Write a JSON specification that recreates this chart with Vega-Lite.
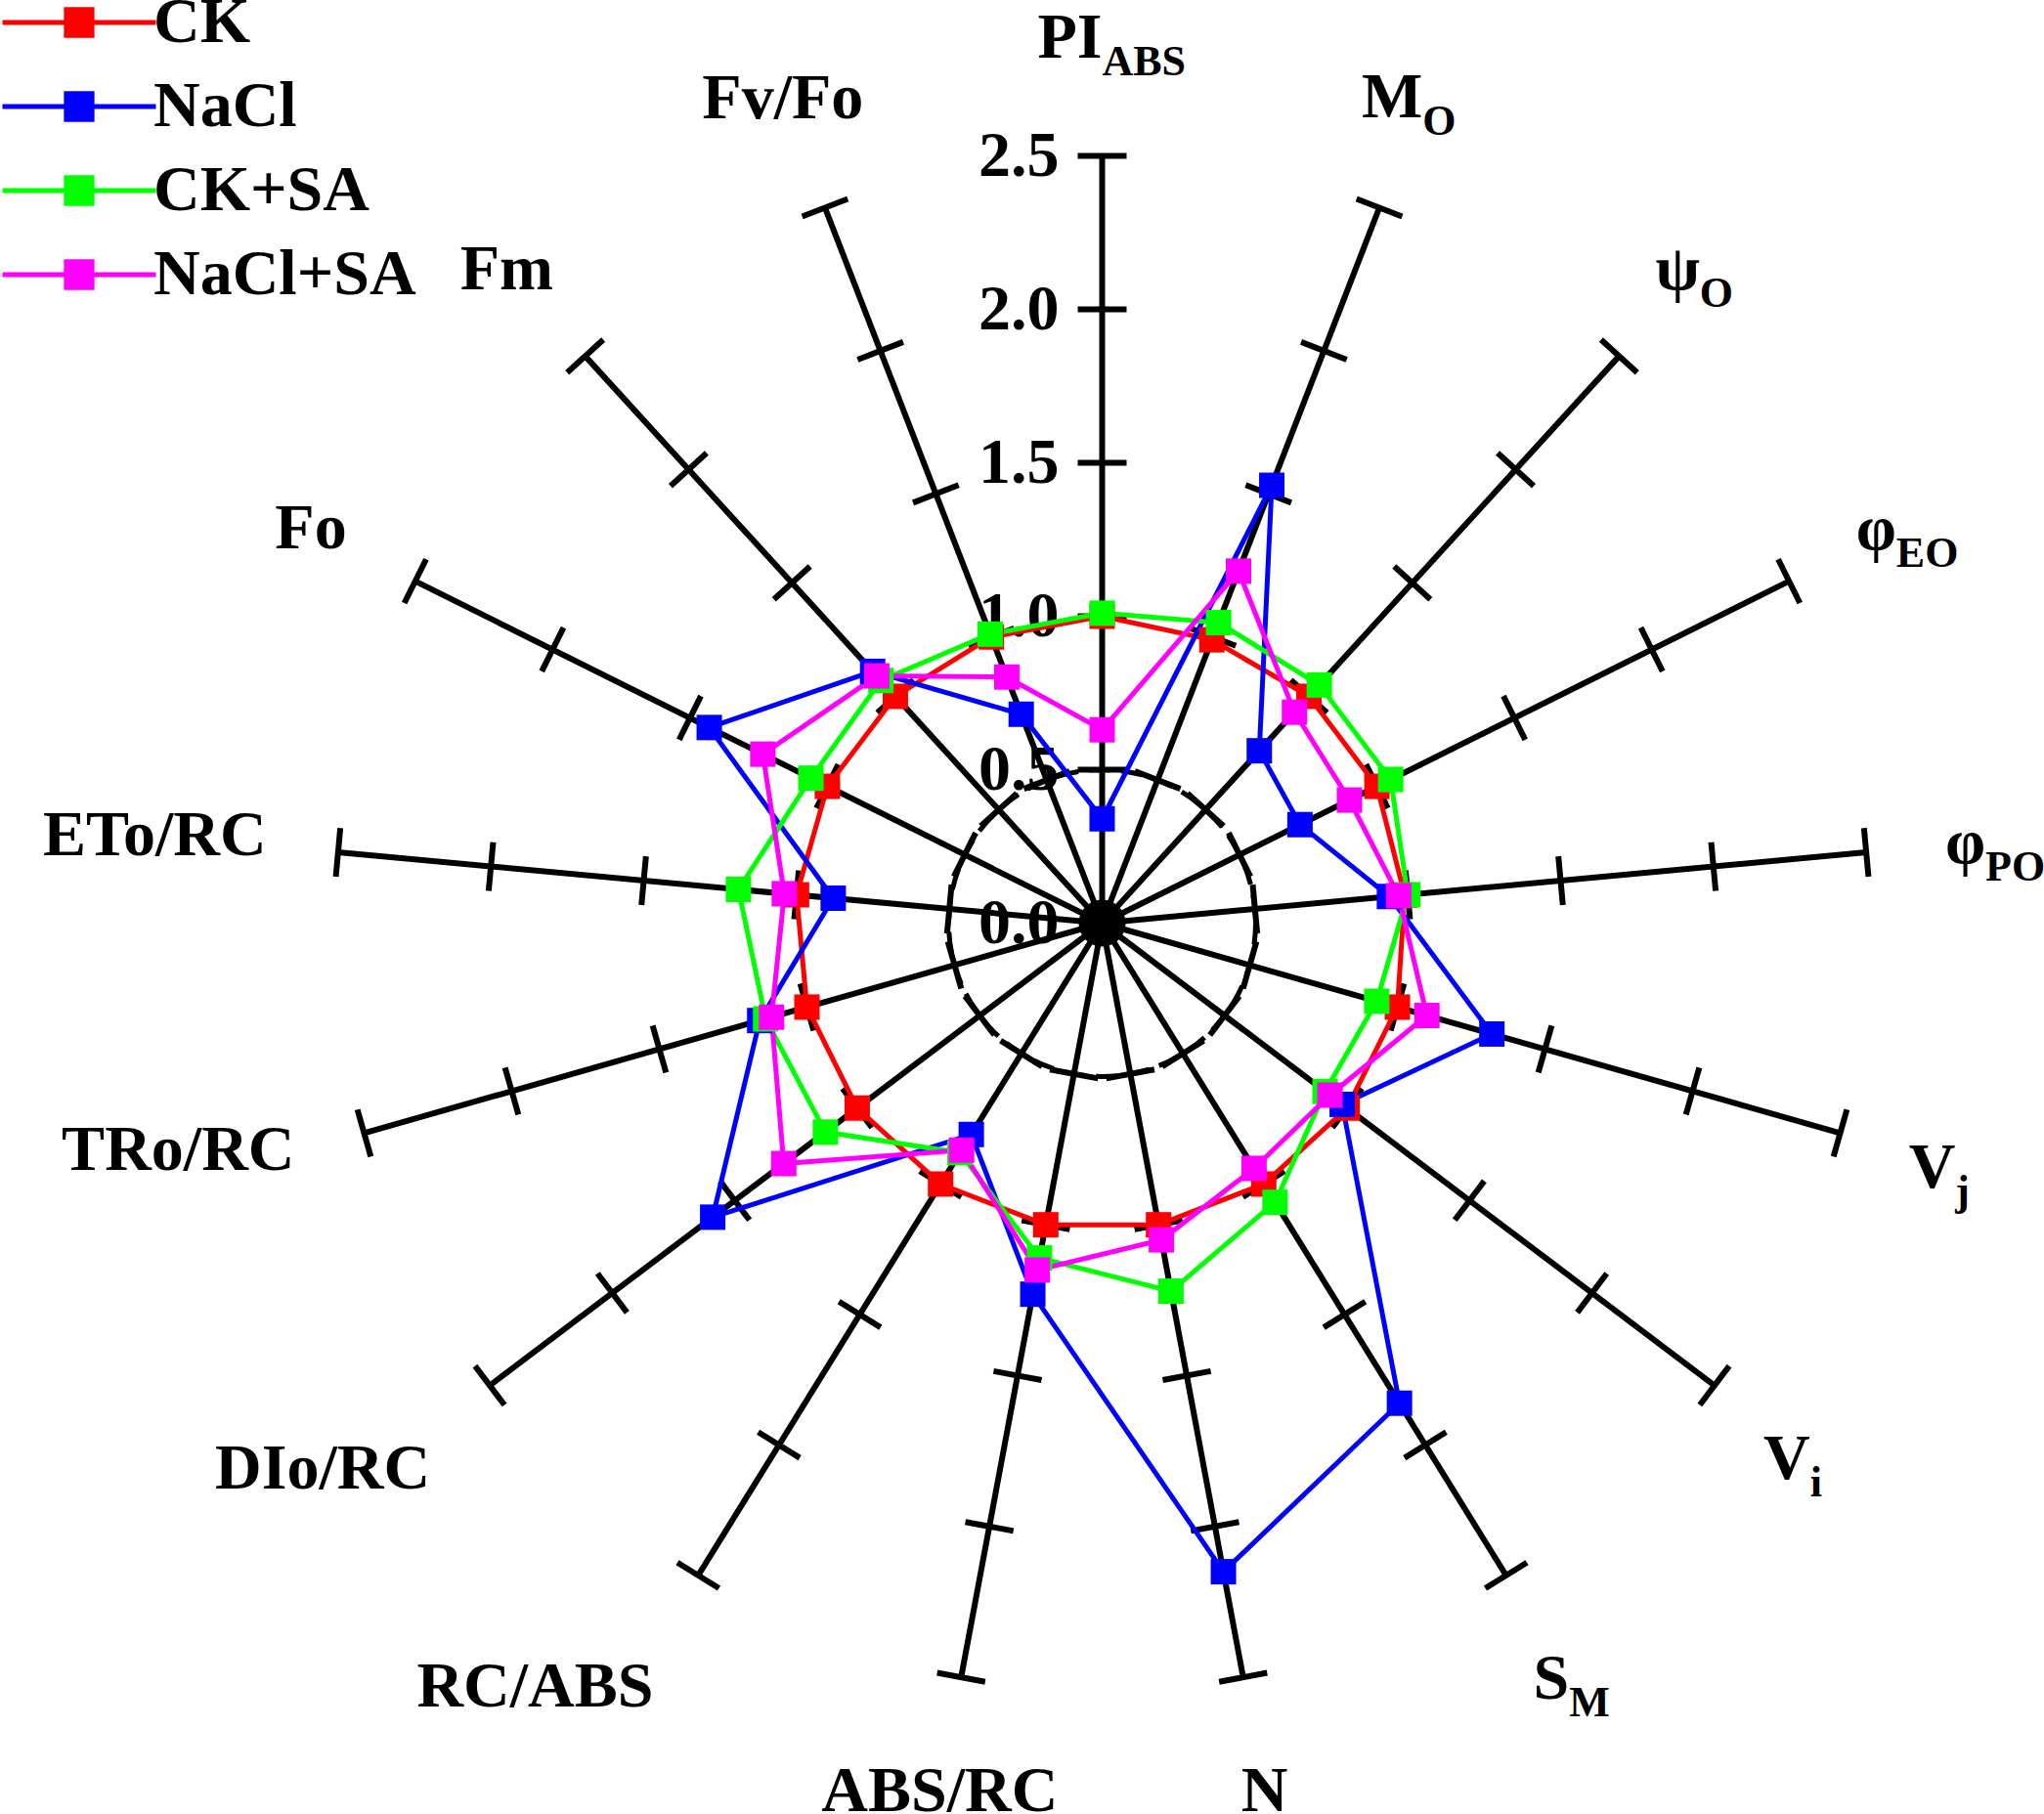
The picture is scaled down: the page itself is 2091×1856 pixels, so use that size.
{
  "$schema": "https://vega.github.io/schema/vega-lite/v6.json",
  "width": 2091,
  "height": 1856,
  "padding": 0,
  "autosize": {"type": "none"},
  "background": "white",
  "config": {"view": {"stroke": null}, "font": "Liberation Serif"},
  "datasets": {
    "axes": [
      {"k": 0, "main": "PI", "sub": "ABS", "ticks": [0.5, 1, 1.5, 2, 2.5]},
      {"k": 1, "main": "M", "sub": "O", "ticks": [0.5, 1, 1.5, 2, 2.5]},
      {"k": 2, "main": "ψ", "sub": "O", "ticks": [0.5, 1, 1.5, 2, 2.5]},
      {"k": 3, "main": "φ", "sub": "EO", "ticks": [0.5, 1, 1.5, 2, 2.5]},
      {"k": 4, "main": "φ", "sub": "PO", "ticks": [0.5, 1, 1.5, 2, 2.5]},
      {"k": 5, "main": "V", "sub": "j", "ticks": [0.5, 1, 1.5, 2, 2.5]},
      {"k": 6, "main": "V", "sub": "i", "ticks": [0.5, 1, 1.5, 2, 2.5]},
      {"k": 7, "main": "S", "sub": "M", "ticks": [0.5, 1, 1.5, 2, 2.5]},
      {"k": 8, "main": "N", "sub": "", "ticks": [0.5, 1, 1.5, 2, 2.5]},
      {"k": 9, "main": "ABS/RC", "sub": "", "ticks": [0.5, 1, 1.5, 2, 2.5]},
      {"k": 10, "main": "RC/ABS", "sub": "", "ticks": [0.5, 1, 1.5, 2, 2.5]},
      {"k": 11, "main": "DIo/RC", "sub": "", "ticks": [0.5, 1, 1.5, 2, 2.5]},
      {"k": 12, "main": "TRo/RC", "sub": "", "ticks": [0.5, 1, 1.5, 2, 2.5]},
      {"k": 13, "main": "ETo/RC", "sub": "", "ticks": [0.5, 1, 1.5, 2, 2.5]},
      {"k": 14, "main": "Fo", "sub": "", "ticks": [0.5, 1, 1.5, 2, 2.5]},
      {"k": 15, "main": "Fm", "sub": "", "ticks": [0.5, 1, 1.5, 2, 2.5]},
      {"k": 16, "main": "Fv/Fo", "sub": "", "ticks": [0.5, 1, 1.5, 2, 2.5]}
    ],
    "ylabels": [{"v": 0}, {"v": 0.5}, {"v": 1}, {"v": 1.5}, {"v": 2}, {"v": 2.5}],
    "series": [
      {"series": "CK", "param": "PI_ABS", "k": 0, "value": 1.0},
      {"series": "CK", "param": "M_O", "k": 1, "value": 0.99},
      {"series": "CK", "param": "psi_O", "k": 2, "value": 1.0},
      {"series": "CK", "param": "phi_EO", "k": 3, "value": 1.0},
      {"series": "CK", "param": "phi_PO", "k": 4, "value": 0.99},
      {"series": "CK", "param": "V_j", "k": 5, "value": 1.0},
      {"series": "CK", "param": "V_i", "k": 6, "value": 1.0},
      {"series": "CK", "param": "S_M", "k": 7, "value": 1.0},
      {"series": "CK", "param": "N", "k": 8, "value": 1.0},
      {"series": "CK", "param": "ABS/RC", "k": 9, "value": 1.0},
      {"series": "CK", "param": "RC/ABS", "k": 10, "value": 1.0},
      {"series": "CK", "param": "DIo/RC", "k": 11, "value": 1.0},
      {"series": "CK", "param": "TRo/RC", "k": 12, "value": 1.0},
      {"series": "CK", "param": "ETo/RC", "k": 13, "value": 1.0},
      {"series": "CK", "param": "Fo", "k": 14, "value": 1.0},
      {"series": "CK", "param": "Fm", "k": 15, "value": 1.0},
      {"series": "CK", "param": "Fv/Fo", "k": 16, "value": 1.0},
      {"series": "NaCl", "param": "PI_ABS", "k": 0, "value": 0.34},
      {"series": "NaCl", "param": "M_O", "k": 1, "value": 1.53},
      {"series": "NaCl", "param": "psi_O", "k": 2, "value": 0.76},
      {"series": "NaCl", "param": "phi_EO", "k": 3, "value": 0.72},
      {"series": "NaCl", "param": "phi_PO", "k": 4, "value": 0.94},
      {"series": "NaCl", "param": "V_j", "k": 5, "value": 1.32},
      {"series": "NaCl", "param": "V_i", "k": 6, "value": 0.98},
      {"series": "NaCl", "param": "S_M", "k": 7, "value": 1.84},
      {"series": "NaCl", "param": "N", "k": 8, "value": 2.15},
      {"series": "NaCl", "param": "ABS/RC", "k": 9, "value": 1.23},
      {"series": "NaCl", "param": "RC/ABS", "k": 10, "value": 0.81},
      {"series": "NaCl", "param": "DIo/RC", "k": 11, "value": 1.59},
      {"series": "NaCl", "param": "TRo/RC", "k": 12, "value": 1.16},
      {"series": "NaCl", "param": "ETo/RC", "k": 13, "value": 0.88},
      {"series": "NaCl", "param": "Fo", "k": 14, "value": 1.43},
      {"series": "NaCl", "param": "Fm", "k": 15, "value": 1.11},
      {"series": "NaCl", "param": "Fv/Fo", "k": 16, "value": 0.73},
      {"series": "CK+SA", "param": "PI_ABS", "k": 0, "value": 1.01},
      {"series": "CK+SA", "param": "M_O", "k": 1, "value": 1.05},
      {"series": "CK+SA", "param": "psi_O", "k": 2, "value": 1.05},
      {"series": "CK+SA", "param": "phi_EO", "k": 3, "value": 1.05},
      {"series": "CK+SA", "param": "phi_PO", "k": 4, "value": 1.0},
      {"series": "CK+SA", "param": "V_j", "k": 5, "value": 0.93},
      {"series": "CK+SA", "param": "V_i", "k": 6, "value": 0.91},
      {"series": "CK+SA", "param": "S_M", "k": 7, "value": 1.07},
      {"series": "CK+SA", "param": "N", "k": 8, "value": 1.22},
      {"series": "CK+SA", "param": "ABS/RC", "k": 9, "value": 1.11},
      {"series": "CK+SA", "param": "RC/ABS", "k": 10, "value": 0.88},
      {"series": "CK+SA", "param": "DIo/RC", "k": 11, "value": 1.13},
      {"series": "CK+SA", "param": "TRo/RC", "k": 12, "value": 1.14},
      {"series": "CK+SA", "param": "ETo/RC", "k": 13, "value": 1.19},
      {"series": "CK+SA", "param": "Fo", "k": 14, "value": 1.06},
      {"series": "CK+SA", "param": "Fm", "k": 15, "value": 1.07},
      {"series": "CK+SA", "param": "Fv/Fo", "k": 16, "value": 1.01},
      {"series": "NaCl+SA", "param": "PI_ABS", "k": 0, "value": 0.63},
      {"series": "NaCl+SA", "param": "M_O", "k": 1, "value": 1.23},
      {"series": "NaCl+SA", "param": "psi_O", "k": 2, "value": 0.93},
      {"series": "NaCl+SA", "param": "phi_EO", "k": 3, "value": 0.9},
      {"series": "NaCl+SA", "param": "phi_PO", "k": 4, "value": 0.97},
      {"series": "NaCl+SA", "param": "V_j", "k": 5, "value": 1.1},
      {"series": "NaCl+SA", "param": "V_i", "k": 6, "value": 0.93},
      {"series": "NaCl+SA", "param": "S_M", "k": 7, "value": 0.94},
      {"series": "NaCl+SA", "param": "N", "k": 8, "value": 1.05},
      {"series": "NaCl+SA", "param": "ABS/RC", "k": 9, "value": 1.15},
      {"series": "NaCl+SA", "param": "RC/ABS", "k": 10, "value": 0.87},
      {"series": "NaCl+SA", "param": "DIo/RC", "k": 11, "value": 1.3},
      {"series": "NaCl+SA", "param": "TRo/RC", "k": 12, "value": 1.12},
      {"series": "NaCl+SA", "param": "ETo/RC", "k": 13, "value": 1.04},
      {"series": "NaCl+SA", "param": "Fo", "k": 14, "value": 1.235},
      {"series": "NaCl+SA", "param": "Fm", "k": 15, "value": 1.09},
      {"series": "NaCl+SA", "param": "Fv/Fo", "k": 16, "value": 0.86}
    ]
  },
  "encoding": {
    "x": {"field": "px", "type": "quantitative", "scale": {"domain": [-3.5908, 3.0685], "nice": false, "zero": false}, "axis": null},
    "y": {"field": "py", "type": "quantitative", "scale": {"domain": [-2.9029, 3.008], "nice": false, "zero": false}, "axis": null}
  },
  "layer": [
    {
      "data": {"name": "ylabels"},
      "transform": [{"calculate": "0", "as": "px"}, {"calculate": "datum.v", "as": "py"}],
      "mark": {"type": "text", "align": "right", "baseline": "middle", "dx": -44, "font": "Liberation Serif", "fontSize": 66, "fontWeight": "bold", "color": "black"},
      "encoding": {"text": {"field": "v", "type": "quantitative", "format": ".1f"}}
    },
    {
      "data": {"name": "axes"},
      "transform": [
        {"calculate": "2*PI*datum.k/17", "as": "a"},
        {"calculate": "0", "as": "px"},
        {"calculate": "0", "as": "py"},
        {"calculate": "2.5*sin(datum.a)", "as": "ex"},
        {"calculate": "2.5*cos(datum.a)", "as": "ey"}
      ],
      "mark": {"type": "rule", "color": "black", "strokeWidth": 6},
      "encoding": {"x2": {"field": "ex"}, "y2": {"field": "ey"}}
    },
    {
      "data": {"name": "axes"},
      "transform": [
        {"flatten": ["ticks"], "as": ["r"]},
        {"calculate": "2*PI*datum.k/17", "as": "a"},
        {"calculate": "datum.r*sin(datum.a)", "as": "px"},
        {"calculate": "datum.r*cos(datum.a)", "as": "py"},
        {"calculate": "datum.k*360/17", "as": "deg"}
      ],
      "mark": {"type": "point", "shape": "M-1,0L1,0", "size": 2500, "filled": false, "color": "black", "strokeWidth": 6, "opacity": 1},
      "encoding": {"angle": {"field": "deg", "type": "quantitative", "scale": null}}
    },
    {
      "data": {"name": "ylabels"},
      "transform": [{"filter": "datum.v == 0"}, {"calculate": "0", "as": "px"}, {"calculate": "0", "as": "py"}],
      "mark": {"type": "point", "shape": "circle", "size": 98596, "filled": false, "color": "black", "strokeWidth": 5, "strokeDash": [22, 11], "opacity": 1}
    },
    {
      "data": {"name": "series"},
      "transform": [
        {"calculate": "2*PI*datum.k/17", "as": "a"},
        {"calculate": "datum.value*sin(datum.a)", "as": "px"},
        {"calculate": "datum.value*cos(datum.a)", "as": "py"}
      ],
      "encoding": {
        "color": {
          "field": "series", "type": "nominal",
          "scale": {"domain": ["CK", "NaCl", "CK+SA", "NaCl+SA"], "range": ["#ff0000", "#0000ff", "#00ff00", "#ff00ff"]},
          "legend": {
            "orient": "none", "legendX": 28, "legendY": -30, "title": null, "padding": 0,
            "symbolType": "M-1.554,0H1.554M-0.26,-0.26H0.26V0.26H-0.26Z",
            "symbolSize": 10201, "symbolStrokeWidth": 5, "symbolOpacity": 1,
            "labelFont": "Liberation Serif", "labelFontSize": 66, "labelFontWeight": "bold", "labelColor": "black",
            "labelOffset": 23, "labelLimit": 0, "rowPadding": 0,
            "encode": {"symbols": {"update": {"stroke": {"scale": "color", "field": "value"}, "fill": {"scale": "color", "field": "value"}, "opacity": {"value": 1}, "strokeWidth": {"value": 5}}}}
          }
        }
      },
      "layer": [
        {"mark": {"type": "line", "interpolate": "linear-closed", "strokeWidth": 5}, "encoding": {"order": {"field": "k", "type": "quantitative"}}},
        {"mark": {"type": "point", "shape": "square", "filled": true, "size": 676, "opacity": 1, "strokeWidth": 0}}
      ]
    },
    {
      "data": {"name": "ylabels"},
      "transform": [{"filter": "datum.v == 0"}, {"calculate": "0", "as": "px"}, {"calculate": "0", "as": "py"}],
      "mark": {"type": "point", "shape": "circle", "size": 2304, "filled": true, "color": "black", "opacity": 1}
    },
    {
      "data": {"name": "axes"},
      "transform": [
        {"filter": "datum.sub != ''"},
        {"calculate": "2*PI*datum.k/17", "as": "a"},
        {"calculate": "2.89*sin(datum.a)", "as": "px"},
        {"calculate": "2.89*cos(datum.a)", "as": "py"}
      ],
      "mark": {"type": "text", "align": "right", "baseline": "alphabetic", "dy": 22, "font": "Liberation Serif", "fontSize": 66, "fontWeight": "bold", "color": "black"},
      "encoding": {"text": {"field": "main"}}
    },
    {
      "data": {"name": "axes"},
      "transform": [
        {"filter": "datum.sub != ''"},
        {"calculate": "2*PI*datum.k/17", "as": "a"},
        {"calculate": "2.89*sin(datum.a)", "as": "px"},
        {"calculate": "2.89*cos(datum.a)", "as": "py"}
      ],
      "mark": {"type": "text", "align": "left", "baseline": "alphabetic", "dy": 40, "font": "Liberation Serif", "fontSize": 44, "fontWeight": "bold", "color": "black"},
      "encoding": {"text": {"field": "sub"}}
    },
    {
      "data": {"name": "axes"},
      "transform": [
        {"filter": "datum.sub == ''"},
        {"calculate": "2*PI*datum.k/17 + (datum.k == 10 ? 0.084 : (datum.k == 11 || datum.k == 12) ? 0.036 : 0)", "as": "a"},
        {"calculate": "(datum.k >= 10 && datum.k <= 13) ? 3.1 : 2.88", "as": "lr"},
        {"calculate": "datum.lr*sin(datum.a)", "as": "px"},
        {"calculate": "datum.lr*cos(datum.a)", "as": "py"}
      ],
      "mark": {"type": "text", "align": "center", "baseline": "middle", "font": "Liberation Serif", "fontSize": 66, "fontWeight": "bold", "color": "black"},
      "encoding": {"text": {"field": "main"}}
    }
  ]
}
